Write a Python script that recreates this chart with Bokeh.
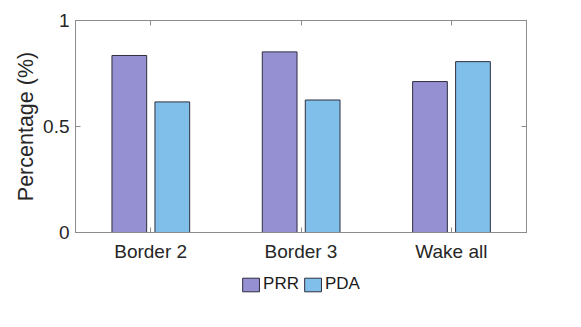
from bokeh.plotting import figure
from bokeh.layouts import column
from bokeh.models import ColumnDataSource, Range1d, FixedTicker, LinearAxis, Legend, LegendItem
from bokeh.transform import dodge
from bokeh.embed import file_html
from bokeh.resources import INLINE

categories = ["Border 2", "Border 3", "Wake all"]
positions = [1, 2, 3]
prr = [0.835, 0.852, 0.712]
pda = [0.616, 0.625, 0.806]
y_ticks = [0, 0.5, 1]
y_tick_labels = {0: "0", 0.5: "0.5", 1: "1"}
series = ["PRR", "PDA"]

src = ColumnDataSource(dict(x=positions, prr=prr, pda=pda))

FONT = "Liberation Sans"
AX = "#8c8c8c"
C_PRR = "#9490D2"
C_PDA = "#80BFEA"
EDGE = "#2e2e3e"

p = figure(width=565, height=268, output_backend="svg", toolbar_location=None,
           x_range=Range1d(0.5, 3.5), y_range=Range1d(0, 1),
           frame_width=451, frame_height=212,
           min_border_left=75, min_border_right=40, min_border_top=20, min_border_bottom=0)
p.grid.visible = False
p.outline_line_color = AX
p.background_fill_color = "white"

p.vbar(x=dodge("x", -0.142, range=p.x_range), top="prr", width=0.231, source=src,
       fill_color=C_PRR, line_color=EDGE, line_width=1)
p.vbar(x=dodge("x", 0.144, range=p.x_range), top="pda", width=0.231, source=src,
       fill_color=C_PDA, line_color=EDGE, line_width=1)

def style(ax):
    ax.axis_line_color = AX
    ax.major_tick_line_color = AX
    ax.minor_tick_line_color = None
    ax.major_tick_in = 5
    ax.major_tick_out = 0
    ax.major_label_text_font = FONT
    ax.major_label_text_font_size = "19px"
    ax.major_label_text_color = "#262626"

xa = p.xaxis[0]
xa.ticker = FixedTicker(ticks=positions)
xa.major_label_overrides = {pos: c for pos, c in zip(positions, categories)}
xa.major_label_standoff = 8
style(xa)

ya = p.yaxis[0]
ya.ticker = FixedTicker(ticks=y_ticks)
ya.major_label_overrides = y_tick_labels
ya.major_label_standoff = 6
ya.axis_label = "Percentage (%)"
ya.axis_label_text_font = FONT
ya.axis_label_text_font_size = "21.5px"
ya.axis_label_text_font_style = "normal"
ya.axis_label_text_color = "#262626"
ya.axis_label_standoff = 2
style(ya)

top = LinearAxis(ticker=FixedTicker(ticks=positions))
style(top)
top.major_label_overrides = {pos: "" for pos in positions}
p.add_layout(top, "above")
right = LinearAxis(ticker=FixedTicker(ticks=y_ticks))
style(right)
right.major_label_overrides = {t: "" for t in y_ticks}
p.add_layout(right, "right")

# legend strip (bars lie outside its ranges; only the legend shows)
leg = figure(width=565, height=40, output_backend="svg", toolbar_location=None,
             x_range=Range1d(100, 101), y_range=Range1d(100, 101), min_border=0)
leg.axis.visible = False
leg.grid.visible = False
leg.outline_line_color = None
l1 = leg.vbar(x="x", top="prr", width=0.231, source=src, fill_color=C_PRR, line_color=EDGE)
l2 = leg.vbar(x="x", top="pda", width=0.231, source=src, fill_color=C_PDA, line_color=EDGE)
legend = Legend(items=[LegendItem(label=series[0], renderers=[l1]),
                       LegendItem(label=series[1], renderers=[l2])],
                orientation="horizontal", location="center",
                label_text_font=FONT, label_text_font_size="17px", label_text_color="#1a1a1a",
                glyph_width=21, glyph_height=17, spacing=3, label_standoff=2,
                border_line_color=None, background_fill_alpha=0,
                margin=0, padding=2)
leg.add_layout(legend, "center")

layout = column(p, leg, spacing=0)
open("out.html", "w").write(file_html(layout, INLINE))
